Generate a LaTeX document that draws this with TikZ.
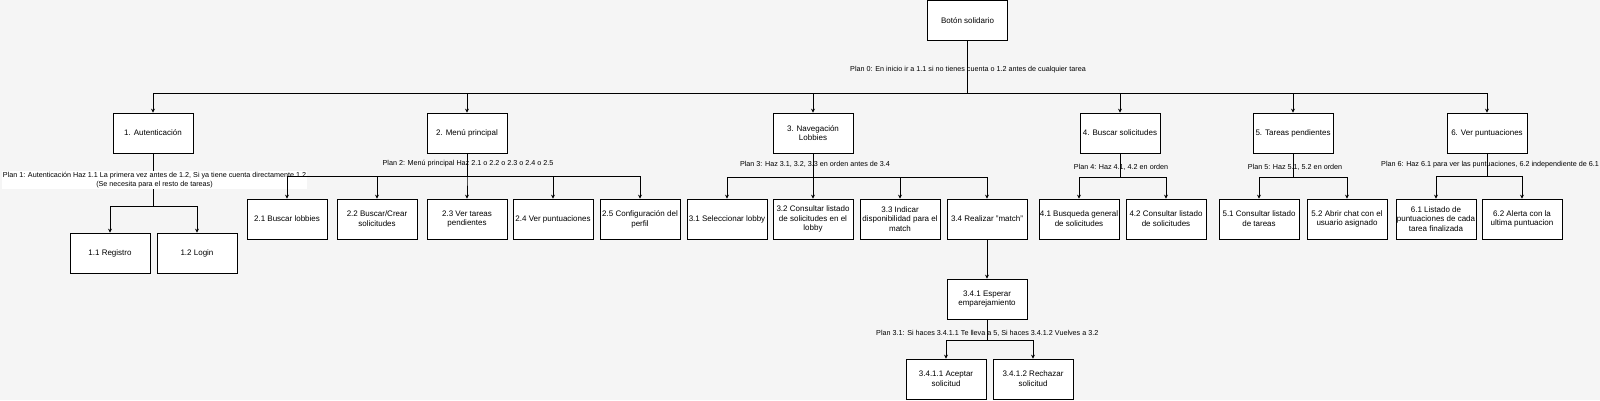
\documentclass[tikz,border=0pt]{standalone}
\usepackage{fontspec}
\setmainfont{Liberation Sans}
\usetikzlibrary{arrows.meta,calc}
\definecolor{bgc}{HTML}{F5F5F5}
\begin{document}
\begin{tikzpicture}[x=1pt,y=-1pt,
 box/.style={draw=black,fill=white,line width=0.7pt,minimum width=80pt,minimum height=40pt,inner sep=1pt,align=center,font=\fontsize{8}{9.8}\selectfont},
 plan/.style={font=\fontsize{7.2}{8.6}\selectfont,inner sep=1pt,align=center},
 arr/.style={draw=black,line width=0.7pt,-{Stealth[length=4pt,width=4pt]}}]
\fill[bgc] (0,0) rectangle (1600,400);
\useasboundingbox (0,0) rectangle (1600,400);

% root
\node[box] (root) at (967.5,20.5) {Botón solidario};
% level 1
\node[box] (n1) at (153,133) {1. Autenticación};
\node[box] (n2) at (467,133) {2. Menú principal};
\node[box] (n3) at (813,133) {3. Navegación\\Lobbies};
\node[box] (n4) at (1120,133) {4. Buscar solicitudes};
\node[box] (n5) at (1293,133) {5. Tareas pendientes};
\node[box] (n6) at (1487,133) {6. Ver puntuaciones};
% level 2
\node[box] (n11) at (110,253) {1.1 Registro};
\node[box] (n12) at (197,253) {1.2 Login};
\node[box] (n21) at (287,219) {2.1 Buscar lobbies};
\node[box] (n22) at (377,219) {2.2 Buscar/Crear\\solicitudes};
\node[box] (n23) at (467,219) {2.3 Ver tareas\\pendientes};
\node[box] (n24) at (553,219) {2.4 Ver puntuaciones};
\node[box] (n25) at (640,219) {2.5 Configuración del\\perfil};
\node[box] (n31) at (727,219) {3.1 Seleccionar lobby};
\node[box] (n32) at (813,219) {3.2 Consultar listado\\de solicitudes en el\\lobby};
\node[box] (n33) at (900,219) {3.3 Indicar\\disponibilidad para el\\match};
\node[box] (n34) at (987,219) {3.4 Realizar "match"};
\node[box] (n41) at (1079,219) {4.1 Busqueda general\\de solicitudes};
\node[box] (n42) at (1166,219) {4.2 Consultar listado\\de solicitudes};
\node[box] (n51) at (1259,219) {5.1 Consultar listado\\de tareas};
\node[box] (n52) at (1347,219) {5.2 Abrir chat con el\\usuario asignado};
\node[box] (n61) at (1436,219) {6.1 Listado de\\puntuaciones de cada\\tarea finalizada};
\node[box] (n62) at (1522,219) {6.2 Alerta con la\\ultima puntuacion};
\node[box] (n341) at (987,299) {3.4.1 Esperar\\emparejamiento};
\node[box] (n3411) at (946,379) {3.4.1.1 Aceptar\\solicitud};
\node[box] (n3412) at (1033,379) {3.4.1.2 Rechazar\\solicitud};

% bus coordinates
\coordinate (b0) at (967.5,93);
\coordinate (b1) at (153,206);
\coordinate (b2) at (467,176);
\coordinate (b3) at (813,177);
\coordinate (b4) at (1120,177);
\coordinate (b5) at (1293,177);
\coordinate (b6) at (1487,176);
\coordinate (b341) at (987,340);

% plan 0
\node[plan] (p0) at (968,70) {Plan 0: En inicio ir a 1.1 si no tienes cuenta o 1.2 antes de cualquier tarea};
\foreach \c in {n1,n2,n3,n4,n5,n6} \draw[arr] (root.south) -- (b0) -| (\c.north);

% plan 1
\foreach \c in {n11,n12} \draw[arr] (n1.south) -- (b1) -| (\c.north);
\node[plan,fill=white] (p1) at (154.5,180) {Plan 1: Autenticación Haz 1.1 La primera vez antes de 1.2, Si ya tiene cuenta directamente 1.2\\(Se necesita para el resto de tareas)};

% plan 2
\node[plan] (p2) at (468,164) {Plan 2: Menú principal Haz 2.1 o 2.2 o 2.3 o 2.4 o 2.5};
\foreach \c in {n21,n22,n23,n24,n25} \draw[arr] (n2.south) -- (b2) -| (\c.north);

% plan 3
\node[plan] (p3) at (815,164) {Plan 3: Haz 3.1, 3.2, 3.3 en orden antes de 3.4};
\foreach \c in {n31,n32,n33,n34} \draw[arr] (n3.south) -- (b3) -| (\c.north);

% plan 4
\node[plan] (p4) at (1121,167) {Plan 4: Haz 4.1, 4.2 en orden};
\foreach \c in {n41,n42} \draw[arr] (n4.south) -- (b4) -| (\c.north);

% plan 5
\node[plan] (p5) at (1295,167) {Plan 5: Haz 5.1, 5.2 en orden};
\foreach \c in {n51,n52} \draw[arr] (n5.south) -- (b5) -| (\c.north);

% plan 6
\node[plan,anchor=west] (p6) at (1380,165) {Plan 6: Haz 6.1 para ver las puntuaciones, 6.2 independiente de 6.1};
\foreach \c in {n61,n62} \draw[arr] (n6.south) -- (b6) -| (\c.north);

% 3.4 -> 3.4.1
\draw[arr] (n34.south) -- (n341.north);
\node[plan,anchor=west] (p31) at (875,333) {Plan 3.1: Si haces 3.4.1.1 Te lleva a 5, Si haces 3.4.1.2 Vuelves a 3.2};
\foreach \c in {n3411,n3412} \draw[arr] (n341.south) -- (b341) -| (\c.north);
\end{tikzpicture}
\end{document}
